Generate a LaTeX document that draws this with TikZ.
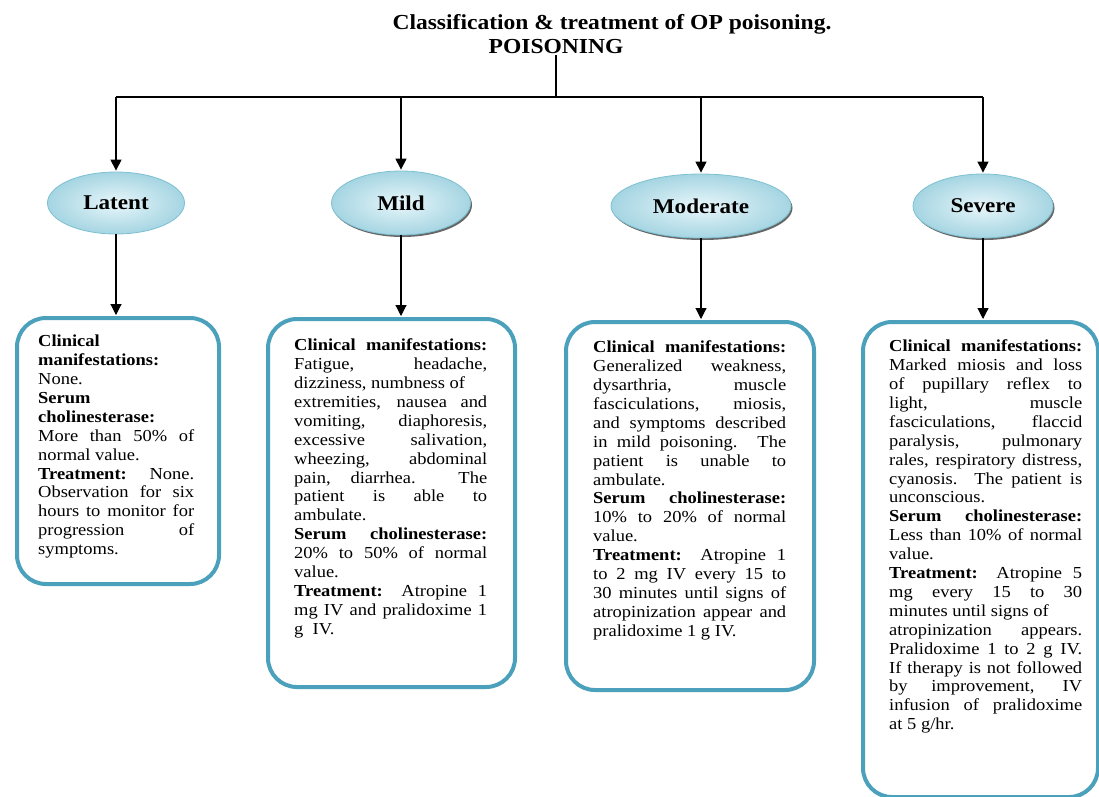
\documentclass[tikz,border=0pt]{standalone}
\usepackage{fontspec}
\setmainfont{Liberation Serif}[FakeStretch=1.1]
\usetikzlibrary{arrows.meta,shapes.geometric}
\definecolor{boxblue}{RGB}{75,160,188}
\definecolor{ellin}{RGB}{232,246,250}
\definecolor{ellout}{RGB}{165,213,226}
\definecolor{elldraw}{RGB}{125,192,210}
\newcommand\jl[1]{\makebox[\linewidth][s]{#1}\par}
\newcommand\pl[1]{#1\par}
\begin{document}
\begin{tikzpicture}[x=1pt,y=-1pt,
  conn/.style={line width=1.1pt,black},
  arr/.style={conn,-{Triangle[width=11pt,length=11pt]},shorten >=1pt},
  ell/.style={shape=ellipse,draw=elldraw,line width=0.8pt,shading=radial,
    inner color=ellin,outer color=ellout,inner sep=0pt,
    font=\fontsize{21}{24}\selectfont\bfseries},
  shad/.style={preaction={fill=black!60,transform canvas={shift={(1.5pt,-2pt)}}}},
  card/.style={draw=boxblue,line width=4pt,rounded corners=29pt,inner sep=0pt,anchor=north west},
  body/.style={anchor=base west,inner sep=0pt,font=\fontsize{16.8}{18.9}\selectfont},
  head/.style={inner sep=0pt,anchor=base,font=\fontsize{21.4}{24}\selectfont\bfseries}
]
\useasboundingbox[fill=white] (0,0) rectangle (1099,796);

% titles
\node[head] (title) at (612,29) {Classification \& treatment of OP poisoning.};
\node[head] (root) at (556,53) {POISONING};

% tree
\coordinate (j) at (556,97);
\coordinate (h1) at (116,97);
\coordinate (h2) at (401,97);
\coordinate (h3) at (701,97);
\coordinate (h4) at (983,97);

% ellipses
\node[ell,minimum width=137pt,minimum height=62pt] (latent) at (116,203) {Latent};
\node[ell,shad,minimum width=139pt,minimum height=64pt] (mild) at (401,203) {Mild};
\node[ell,shad,minimum width=180pt,minimum height=64pt] (moderate) at (701,206) {Moderate};
\node[ell,shad,minimum width=140pt,minimum height=64pt] (severe) at (983,206) {Severe};

\draw[conn] ([yshift=-2pt]root.south) -- (j);
\draw[conn] (h1) -- (h4);
\draw[arr] (h1) -- (latent.north);
\draw[arr] (h2) -- (mild.north);
\draw[arr] (h3) -- (moderate.north);
\draw[arr] (h4) -- (severe.north);

% boxes
\node[card,minimum width=202pt,minimum height=266pt] (b1) at (15,316) {};
\node[card,minimum width=247pt,minimum height=368pt] (b2) at (266,317) {};
\node[card,minimum width=248pt,minimum height=368pt] (b3) at (564,320) {};
\node[card,minimum width=235pt,minimum height=475pt] (b4) at (861,320) {};

\draw[arr] (latent.south) -- (latent.south |- b1.north);
\draw[arr] (mild.south) -- (mild.south |- b2.north);
\draw[arr] (moderate.south) -- (moderate.south |- b3.north);
\draw[arr] (severe.south) -- (severe.south |- b4.north);

% texts
\node[body] (t1) at (38,346.7) {\parbox[t]{156pt}{%
\pl{\textbf{Clinical}}
\pl{\textbf{manifestations:}}
\pl{None.}
\pl{\textbf{Serum}}
\pl{\textbf{cholinesterase:}}
\jl{More than 50\% of}
\pl{normal value.}
\jl{\textbf{Treatment:} None.}
\jl{Observation for six}
\jl{hours to monitor for}
\jl{progression of}
\pl{symptoms.}}};

\node[body] (t2) at (294,350.7) {\parbox[t]{193pt}{%
\jl{\textbf{Clinical manifestations:}}
\jl{Fatigue, headache,}
\pl{dizziness, numbness of}
\jl{extremities, nausea and}
\jl{vomiting, diaphoresis,}
\jl{excessive salivation,}
\jl{wheezing, abdominal}
\jl{pain, diarrhea. The}
\jl{patient is able to}
\pl{ambulate.}
\jl{\textbf{Serum cholinesterase:}}
\jl{20\% to 50\% of normal}
\pl{value.}
\jl{\textbf{Treatment:} Atropine 1}
\jl{mg IV and pralidoxime 1}
\pl{g\ \ IV.}}};

\node[body] (t3) at (593,352.7) {\parbox[t]{193pt}{%
\jl{\textbf{Clinical manifestations:}}
\jl{Generalized weakness,}
\jl{dysarthria, muscle}
\jl{fasciculations, miosis,}
\jl{and symptoms described}
\jl{in mild poisoning. The}
\jl{patient is unable to}
\pl{ambulate.}
\jl{\textbf{Serum cholinesterase:}}
\jl{10\% to 20\% of normal}
\pl{value.}
\jl{\textbf{Treatment:} Atropine 1}
\jl{to 2 mg IV every 15 to}
\jl{30 minutes until signs of}
\jl{atropinization appear and}
\pl{pralidoxime 1 g IV.}}};

\node[body] (t4) at (889,351.7) {\parbox[t]{193pt}{%
\jl{\textbf{Clinical manifestations:}}
\jl{Marked miosis and loss}
\jl{of pupillary reflex to}
\jl{light, muscle}
\jl{fasciculations, flaccid}
\jl{paralysis, pulmonary}
\jl{rales, respiratory distress,}
\jl{cyanosis. The patient is}
\pl{unconscious.}
\jl{\textbf{Serum cholinesterase:}}
\jl{Less than 10\% of normal}
\pl{value.}
\jl{\textbf{Treatment:} Atropine 5}
\jl{mg every 15 to 30}
\pl{minutes until signs of}
\jl{atropinization appears.}
\jl{Pralidoxime 1 to 2 g IV.}
\jl{If therapy is not followed}
\jl{by improvement, IV}
\jl{infusion of pralidoxime}
\pl{at 5 g/hr.}}};
\end{tikzpicture}
\end{document}
